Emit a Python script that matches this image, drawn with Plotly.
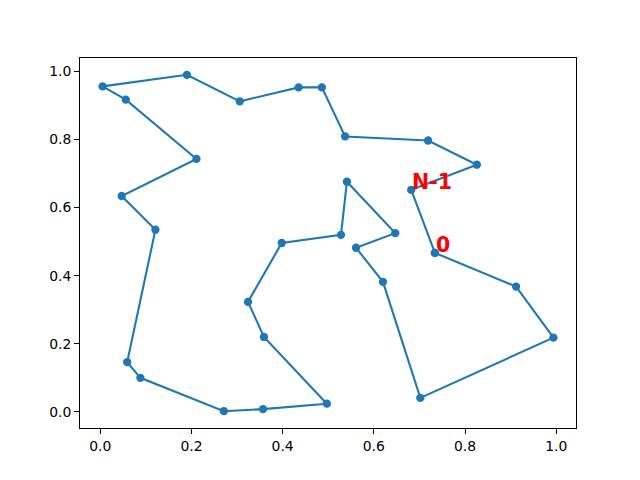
import plotly.graph_objects as go

# Tour order of the points (index 0 first, N-1 last)
xs = [0.734, 0.912, 0.994, 0.702, 0.620, 0.561, 0.647, 0.541, 0.528, 0.398,
      0.324, 0.359, 0.497, 0.357, 0.271, 0.088, 0.059, 0.121, 0.047, 0.211,
      0.056, 0.005, 0.190, 0.306, 0.435, 0.486, 0.537, 0.719, 0.826, 0.682]
ys = [0.467, 0.368, 0.218, 0.041, 0.382, 0.482, 0.525, 0.676, 0.520, 0.496,
      0.323, 0.220, 0.024, 0.008, 0.002, 0.100, 0.146, 0.535, 0.634, 0.743,
      0.917, 0.956, 0.990, 0.912, 0.953, 0.953, 0.809, 0.797, 0.726, 0.652]
labels = ["0", "N-1"]
tick_vals = [0.0, 0.2, 0.4, 0.6, 0.8, 1.0]

# closed tour
px = xs + [xs[0]]
py = ys + [ys[0]]

fig = go.Figure()
fig.add_trace(go.Scatter(
    x=px, y=py, mode="lines+markers",
    line=dict(color="#1f77b4", width=2.08),
    marker=dict(color="#1f77b4", size=8.3, line=dict(width=0)),
    showlegend=False, hoverinfo="skip"))

for lab, idx in zip(labels, [0, len(xs) - 1]):
    fig.add_annotation(x=xs[idx], y=ys[idx], text=lab, showarrow=False,
                       xanchor="left", yanchor="bottom", borderpad=0,
                       yshift=-5,
                       font=dict(family="DejaVu Sans", size=20.5, color="red",
                                 weight="bold"))

def rng(v):
    lo, hi = min(v), max(v)
    s = hi - lo
    return [lo - 0.05 * s, hi + 0.05 * s]

axis_common = dict(
    showgrid=False, zeroline=False, showline=True, linecolor="black",
    linewidth=1.1, mirror=True, ticks="outside", ticklen=4.9, tickwidth=1.1,
    tickcolor="black", tickvals=tick_vals, tickformat=".1f",
    tickfont=dict(family="DejaVu Sans", size=13.9, color="black"))

fig.update_xaxes(range=rng(xs), **axis_common)
fig.update_yaxes(range=rng(ys), **axis_common)

fig.update_layout(
    width=640, height=480,
    margin=dict(l=72, r=72, t=50, b=60, pad=0),
    paper_bgcolor="white", plot_bgcolor="white",
    font=dict(family="DejaVu Sans"))

fig.write_html("out.html")
